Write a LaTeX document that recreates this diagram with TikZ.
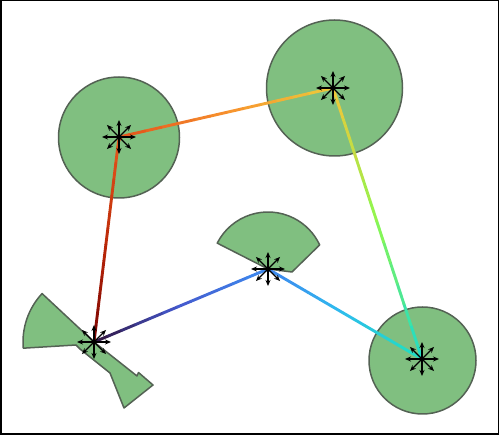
\documentclass[tikz,border=0pt]{standalone}
\usepackage{tikz}
\usetikzlibrary{arrows.meta,calc}
\definecolor{regfill}{RGB}{128,191,128}
\definecolor{regedge}{RGB}{84,98,84}
% colours along the trajectory
\definecolor{c0}{HTML}{30123B}\definecolor{m1}{HTML}{4458CC}
\definecolor{c1}{HTML}{3E88EE}\definecolor{m2}{HTML}{2EBCEE}
\definecolor{c2}{HTML}{22DCC4}\definecolor{m3}{HTML}{8CF850}
\definecolor{c3}{HTML}{EEC83A}\definecolor{m4}{HTML}{F8922E}
\definecolor{c4}{HTML}{E4561C}\definecolor{m5}{HTML}{BC2808}
\definecolor{c5}{HTML}{7A0403}
\newcommand{\gradline}[5]{% from, to, colours start/middle/end
  \foreach \i in {0,...,11}{
    \ifnum\i<6 \pgfmathtruncatemacro{\pct}{100-(\i+0.5)*100/6}\colorlet{segcol}{#3!\pct!#4}%
    \else \pgfmathtruncatemacro{\pct}{100-(\i-5.5)*100/6}\colorlet{segcol}{#4!\pct!#5}\fi
    \draw[traj,segcol] ($(#1)!\i/12!(#2)$) -- ($(#1)!\i/12+1/12!(#2)$);
  }}
\newcommand{\compass}[1]{\foreach \a in {0,45,...,315} \draw[dirarrow] (#1) -- ++(\a:17);}

\begin{document}
\begin{tikzpicture}[>=Stealth,x=1pt,y=-1pt,
  region/.style={fill=regfill,draw=regedge,line width=1.5pt,line join=round},
  traj/.style={line width=2.9pt,line cap=round},
  dirarrow/.style={-{Stealth[length=6pt,width=5pt]},line width=1.1pt}]
\useasboundingbox (0,0) rectangle (499,435);
\draw[line width=1.5pt] (0.75,0.75) rectangle (498.25,434.25);
% visible regions
\draw[region] (119,137.5) circle[radius=60.5];
\draw[region] (334.5,88) circle[radius=68];
\draw[region] (422.5,360.5) circle[radius=53.5];
\draw[region] (268,269) -- ++(-153:57) arc[start angle=-153,end angle=-25,radius=57] -- (292,272) -- cycle;
\draw[region] (94,342) -- ++(-137:71) arc[start angle=-137,end angle=-185,radius=71]
  -- (76,345) -- (80,349) -- (110,373) -- (124,408) -- (153,385) -- (138.5,372.5) -- (137,376) -- cycle;
% waypoints
\coordinate (start) at (94,342);
\coordinate (wpa) at (268,269);
\coordinate (wpb) at (422,359);
\coordinate (wpc) at (333,88);
\coordinate (wpd) at (119,137);
\coordinate (wpa-in) at ($(wpa)!8pt!(start)$);\coordinate (wpa-out) at ($(wpa)!8pt!(wpb)$);
\coordinate (wpb-in) at ($(wpb)!14pt!(wpa)$);\coordinate (wpb-out) at ($(wpb)!14pt!(wpc)$);
\coordinate (wpc-in) at ($(wpc)!9pt!(wpb)$);\coordinate (wpc-out) at ($(wpc)!9pt!(wpd)$);
\coordinate (wpd-in) at ($(wpd)!10pt!(wpc)$);\coordinate (wpd-out) at ($(wpd)!10pt!(start)$);
% trajectory
\gradline{start}{wpa-in}{c0}{m1}{c1}
\draw[traj,c1] (wpa-in) .. controls (wpa) .. (wpa-out);
\gradline{wpa-out}{wpb-in}{c1}{m2}{c2}
\draw[traj,c2] (wpb-in) .. controls (wpb) .. (wpb-out);
\gradline{wpb-out}{wpc-in}{c2}{m3}{c3}
\draw[traj,c3] (wpc-in) .. controls (wpc) .. (wpc-out);
\gradline{wpc-out}{wpd-in}{c3}{m4}{c4}
\draw[traj,c4] (wpd-in) .. controls (wpd) .. (wpd-out);
\gradline{wpd-out}{start}{c4}{m5}{c5}
% headings at each waypoint
\compass{start}\compass{wpa}\compass{wpb}\compass{wpc}\compass{wpd}
\end{tikzpicture}
\end{document}
